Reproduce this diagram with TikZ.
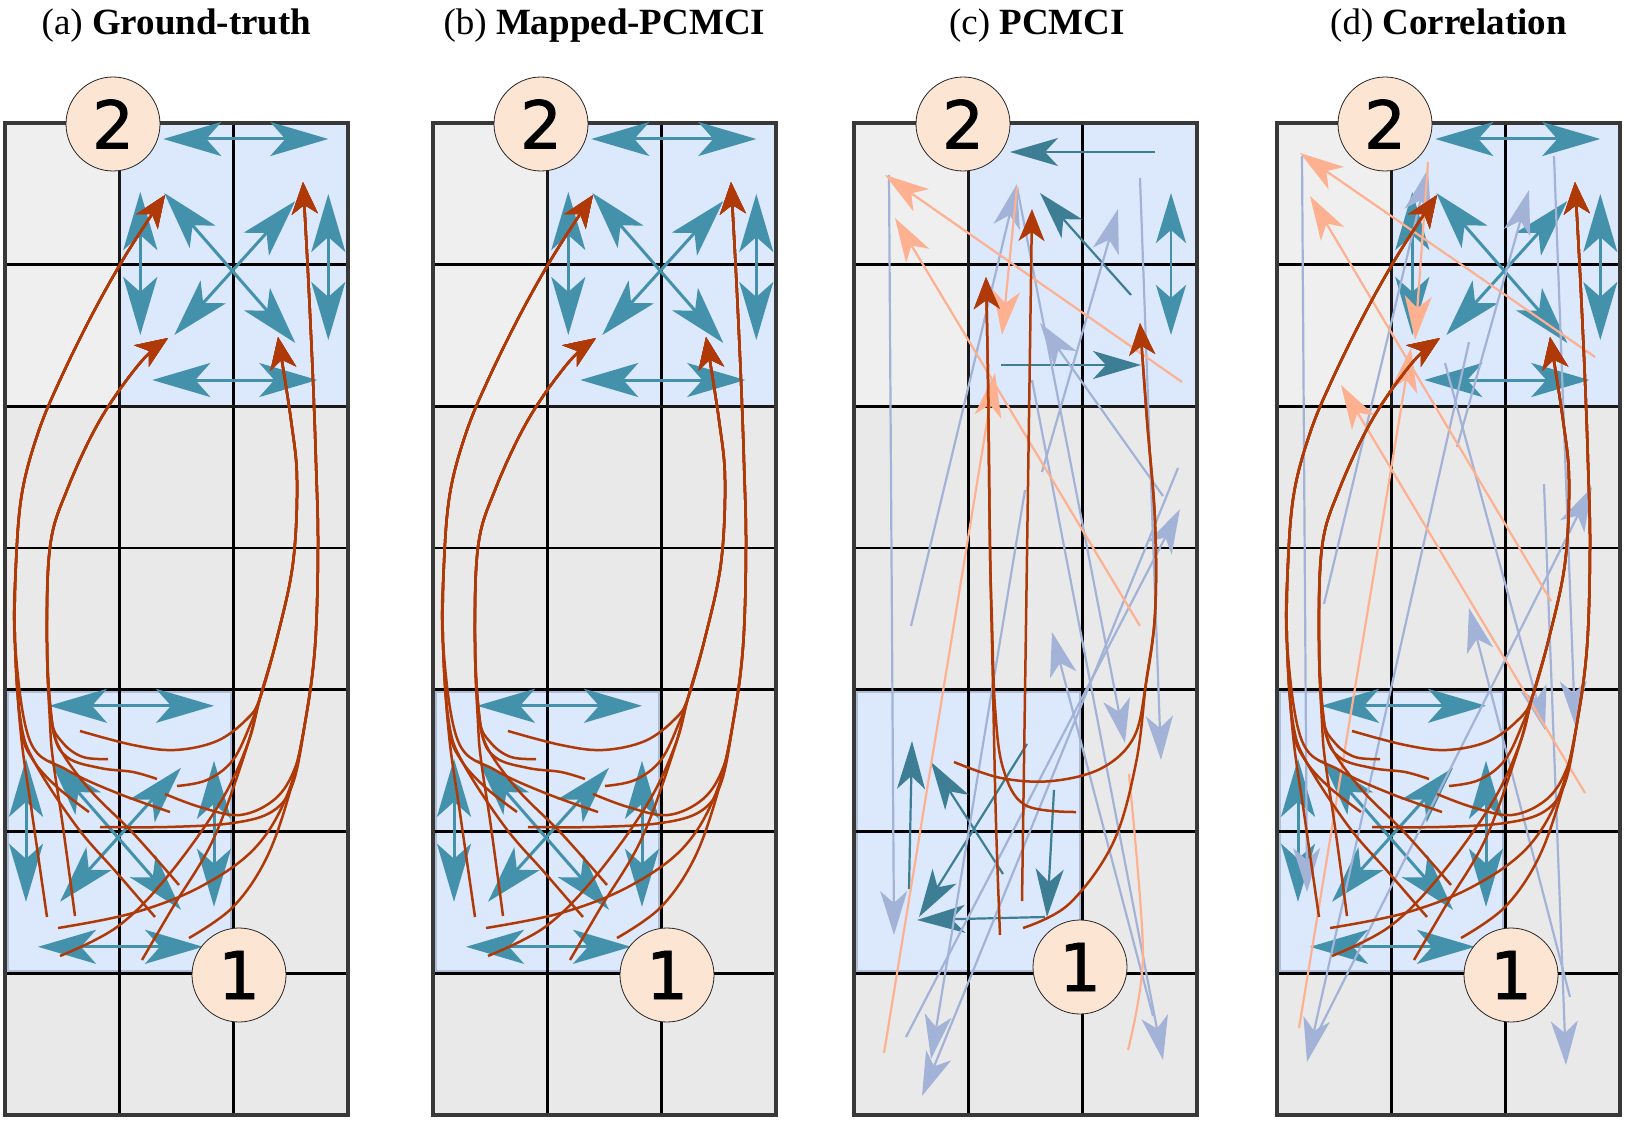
\documentclass[tikz,border=0pt]{standalone}
\usepackage{fontspec}
\setmainfont{Liberation Serif}
\newfontfamily\numfont[FakeBold=1.2]{DejaVu Sans}
\usetikzlibrary{arrows.meta}
\definecolor{cellA}{HTML}{EFEFEF}
\definecolor{cellB}{HTML}{E9E9E9}
\definecolor{bluefill}{HTML}{DCE8FB}
\definecolor{blueedge}{HTML}{AFBDD6}
\definecolor{tealc}{HTML}{4491AB}
\definecolor{tealdark}{HTML}{3D7E95}
\definecolor{rust}{HTML}{B03A07}
\definecolor{lblue}{HTML}{A3B3D7}
\definecolor{lorange}{HTML}{FDB190}
\definecolor{peach}{HTML}{FDE5D4}
\tikzset{
  gridl/.style={draw=black, line width=2.7pt},
  framel/.style={draw=black!78, line width=4pt},
  tealdbl/.style={draw=tealc, line width=3pt, {Stealth[length=58pt,width=34pt,inset=15pt]}-{Stealth[length=58pt,width=34pt,inset=15pt]}},
  tealdblc/.style={draw=tealc, line width=2.6pt, {Stealth[length=50pt,width=30pt,inset=13pt]}-{Stealth[length=50pt,width=30pt,inset=13pt]}},
  tealsgl/.style={draw=tealdark, line width=2.2pt, -{Stealth[length=48pt,width=28pt,inset=13pt]}},
  redarr/.style={draw=rust, line width=2.5pt, -{Stealth[length=32pt,width=26pt,inset=9pt]}},
  blarr/.style={draw=lblue, line width=2.2pt, -{Stealth[length=44pt,width=27pt,inset=12pt]}},
  orarr/.style={draw=lorange, line width=2.2pt, -{Stealth[length=44pt,width=27pt,inset=12pt]}},
  orline/.style={draw=lorange, line width=2.2pt},
  numcirc/.style={circle, draw=black!85, line width=0.8pt, fill=peach, minimum size=94pt, inner sep=0pt, font=\numfont\fontsize{66}{66}\selectfont},
  ptitle/.style={anchor=base, font=\fontsize{37}{40}\selectfont},
}
\newcommand\panelbase{%
  \fill[cellA] (0,0) rectangle (343,283.4);
  \fill[cellB] (0,283.4) rectangle (343,992);
  \fill[bluefill] (114.3,0) rectangle (343,283.4);
  \fill[bluefill] (0,566.8) rectangle (228.6,850.2);
  \draw[blueedge, line width=3pt] (2,568.8) rectangle (226.6,848.2);
  \foreach \i in {1,2} \draw[gridl] (\i*114.3,0) -- (\i*114.3,992);
  \foreach \j in {1,...,6} \draw[gridl] (0,\j*141.7) -- (343,\j*141.7);
  \draw[draw=black!90, line width=3.2pt] (114.3,0) rectangle (343,283.4);
  \draw[framel] (0,0) rectangle (343,992);
}
\newcommand\tealblock[1]{%
  \begin{scope}[shift={#1}]
    \draw[tealdbl] (44,16) -- (209,16);
    \draw[tealdbl] (21,69) -- (21,212);
    \draw[tealdbl] (209,71) -- (209,217);
    \draw[tealdbl] (45,70) -- (176,220);
    \draw[tealdbl] (176,78) -- (55,212);
    \draw[tealdbl] (33,257) -- (198,257);
  \end{scope}}
\newcommand\gtred{%
  % trunk L1
  \draw[redarr] plot[smooth, tension=0.6] coordinates {(42,794) (27,690) (16,612) (10,520) (11,440) (17,370) (33,310) (55,257) (88,190) (122,130) (160,72)};
  \draw[redarr] plot[smooth, tension=0.6] coordinates {(84,689) (52,664) (28,637) (16,605) (10,520) (11,440) (17,370) (33,310) (55,257) (88,190) (122,130) (160,72)};
  \draw[redarr] plot[smooth, tension=0.6] coordinates {(165,689) (112,670) (62,647) (25,618) (10,520) (11,440) (17,370) (33,310) (55,257) (88,190) (122,130) (160,72)};
  \draw[redarr] plot[smooth, tension=0.6] coordinates {(150,794) (112,750) (72,704) (30,640) (16,600) (10,520) (11,440) (17,370) (33,310) (55,257) (88,190) (122,130) (160,72)};
  % trunk L2
  \draw[redarr] plot[smooth, tension=0.6] coordinates {(70,793) (58,704) (48,637) (45,600) (42,520) (45,424) (62,367) (95,297) (135,240) (163,215)};
  \draw[redarr] plot[smooth, tension=0.6] coordinates {(103,636) (78,634) (58,620) (46,595) (42,520) (45,424) (62,367) (95,297) (135,240) (163,215)};
  \draw[redarr] plot[smooth, tension=0.6] coordinates {(152,656) (128,649) (95,645) (62,634) (48,605) (42,520) (45,424) (62,367) (95,297) (135,240) (163,215)};
  \draw[redarr] plot[smooth, tension=0.6] coordinates {(174,762) (128,710) (85,667) (54,624) (46,590) (42,520) (45,424) (62,367) (95,297) (135,240) (163,215)};
  % trunk R1
  \draw[redarr] plot[smooth, tension=0.6] coordinates {(75,608) (128,622) (170,627) (212,618) (242,596) (255,575) (272,515) (288,440) (292,357) (286,297) (273,214)};
  \draw[redarr] plot[smooth, tension=0.6] coordinates {(172,663) (202,657) (228,637) (246,600) (255,575) (272,515) (288,440) (292,357) (286,297) (273,214)};
  \draw[redarr] plot[smooth, tension=0.6] coordinates {(137,837) (168,784) (208,717) (240,630) (255,575) (272,515) (288,440) (292,357) (286,297) (273,214)};
  \draw[redarr] plot[smooth, tension=0.6] coordinates {(55,833) (112,804) (162,754) (215,680) (243,620) (255,575) (272,515) (288,440) (292,357) (286,297) (273,214)};
  % trunk R2
  \draw[redarr] plot[smooth, tension=0.6] coordinates {(160,671) (195,684) (235,692) (270,676) (290,645) (300,600) (310,524) (313,424) (311,340) (308,257) (303,150) (298,59)};
  \draw[redarr] plot[smooth, tension=0.6] coordinates {(95,704) (162,704) (228,700) (268,688) (288,660) (300,600) (310,524) (313,424) (311,340) (308,257) (303,150) (298,59)};
  \draw[redarr] plot[smooth, tension=0.6] coordinates {(53,805) (128,790) (195,764) (250,725) (283,670) (300,600) (310,524) (313,424) (311,340) (308,257) (303,150) (298,59)};
  \draw[redarr] plot[smooth, tension=0.6] coordinates {(184,815) (228,784) (262,734) (286,665) (300,600) (310,524) (313,424) (311,340) (308,257) (303,150) (298,59)};
}
\begin{document}
\begin{tikzpicture}[x=1pt,y=-1pt]
\useasboundingbox (0,0) rectangle (1625,1121);
\fill[white] (0,0) rectangle (1625,1121);

% ---------- (a)
\begin{scope}[shift={(5,123)}]
  \panelbase
  \tealblock{(114.3,0)}
  \tealblock{(0,566.8)}
  \gtred
  \node[numcirc] (a2) at (108,1) {2};
  \node[numcirc] (a1) at (234,852) {1};
  \node[ptitle] (at) at (171.5,-88) {(a) \textbf{Ground-truth}};
\end{scope}

% ---------- (b)
\begin{scope}[shift={(433,123)}]
  \panelbase
  \tealblock{(114.3,0)}
  \tealblock{(0,566.8)}
  \gtred
  \node[numcirc] (b2) at (108,1) {2};
  \node[numcirc] (b1) at (234,852) {1};
  \node[ptitle] (bt) at (171.5,-88) {(b) \textbf{Mapped-PCMCI}};
\end{scope}

% ---------- (c)
\begin{scope}[shift={(854,123)}]
  \panelbase
  \draw[tealsgl] (301,29) -- (156,29);
  \draw[tealsgl] (277,172) -- (186,70);
  \draw[tealdblc] (317,70) -- (317,212);
  \draw[tealsgl] (147,242) -- (287,242);
  \draw[tealsgl] (55,766) -- (58,618);
  \draw[tealsgl] (149,751) -- (77,639);
  \draw[tealsgl] (173,621) -- (65,794);
  \draw[tealsgl] (200,667) -- (193,794);
  \draw[tealsgl] (191,794) -- (63,797);
  \draw[blarr] (35,52) -- (40,812);
  \draw[blarr] (57,503) -- (163,61);
  \draw[blarr] (188,349) -- (264,86);
  \draw[blarr] (286,55) -- (307,637);
  \draw[blarr] (309,373) -- (186,200);
  \draw[blarr] (163,64) -- (271,620);
  \draw[blarr] (178,257) -- (309,937);
  \draw[blarr] (299,893) -- (198,509);
  \draw[blarr] (324,345) -- (68,973);
  \draw[blarr] (52,914) -- (326,386);
  \draw[blarr] (171,367) -- (77,936);
  \draw[orarr] (328,259) -- (31,52);
  \draw[orarr] (286,503) -- (41,95);
  \draw[orarr] (30,930) -- (141,250);
  \draw[orarr] (163,64) -- (148,212);
  \draw[orline] plot[smooth] coordinates {(274,927) (289,831) (275,651)};
  \draw[redarr] plot[smooth, tension=0.6] coordinates {(146,812) (142,700) (139,565) (136,424) (134,257) (132,154)};
  \draw[redarr] plot[smooth, tension=0.6] coordinates {(222,689) (171,682) (149,645) (141,584) (138,500) (136,424) (134,257) (132,154)};
  \draw[redarr] (168,778) -- (178,86);
  \draw[redarr] plot[smooth, tension=0.6] coordinates {(100,639) (147,655) (198,658) (248,645) (280,614) (292,560) (301,491) (301,398) (293,297) (286,200)};
  \draw[redarr] plot[smooth, tension=0.6] coordinates {(169,805) (215,781) (259,720) (282,640) (292,560) (301,491) (301,398) (293,297) (286,200)};
  \node[numcirc] (c2) at (109,1) {2};
  \node[numcirc] (c1) at (226,844) {1};
  \node[ptitle] (ct) at (183,-88) {(c) \textbf{PCMCI}};
\end{scope}

% ---------- (d)
\begin{scope}[shift={(1277,123)}]
  \panelbase
  \tealblock{(114.3,0)}
  \tealblock{(0,566.8)}
  \draw[blarr] (25,33) -- (30,769);
  \draw[blarr] (47,481) -- (151,46);
  \draw[blarr] (180,324) -- (252,67);
  \draw[blarr] (277,33) -- (298,602);
  \draw[blarr] (168,240) -- (268,607);
  \draw[blarr] (293,874) -- (192,485);
  \draw[blarr] (267,361) -- (289,942);
  \draw[blarr] (37,917) -- (315,364);
  \draw[blarr] (192,219) -- (30,939);
  \draw[orarr] (318,234) -- (23,30);
  \draw[orarr] (274,478) -- (33,73);
  \draw[orarr] (308,670) -- (64,262);
  \draw[orarr] (151,39) -- (138,217);
  \draw[orarr] (22,905) -- (134,225);
  \gtred
  \node[numcirc] (d2) at (108,1) {2};
  \node[numcirc] (d1) at (234,852) {1};
  \node[ptitle] (dt) at (171.5,-88) {(d) \textbf{Correlation}};
\end{scope}
\end{tikzpicture}
\end{document}
